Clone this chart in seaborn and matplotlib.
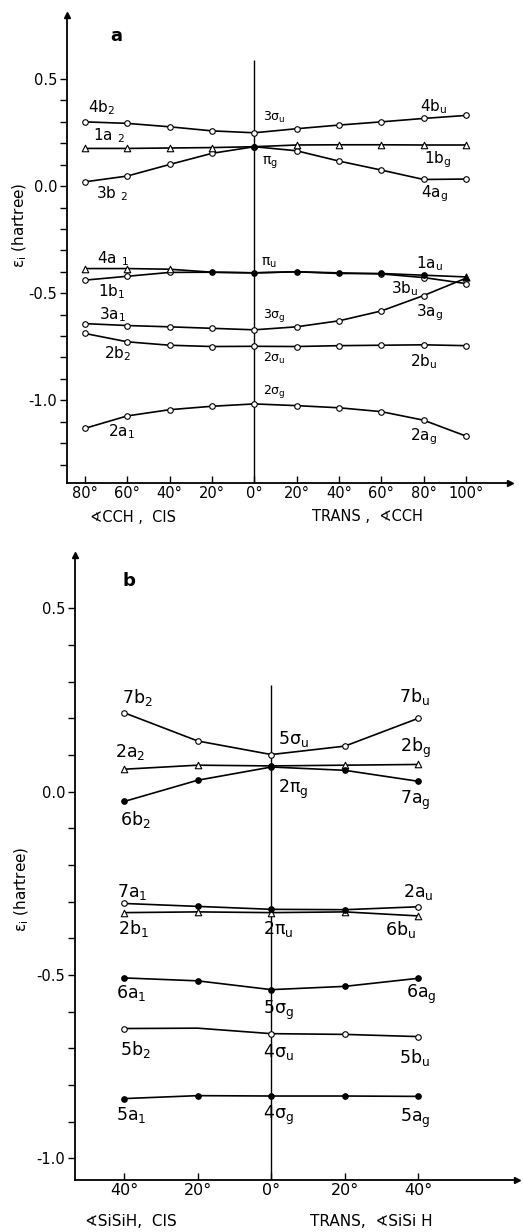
import numpy as np
import pandas as pd
import matplotlib
matplotlib.use("Agg")
import matplotlib.pyplot as plt
import seaborn as sns

# panel a: orbital energies vs. bending angle CCH (cis left, trans right)
angle_a = [-80, -60, -40, -20, 0, 20, 40, 60, 80, 100]
e_4b2 = [0.300, 0.293, 0.277, 0.258, 0.249, 0.268, 0.285, 0.300, 0.316, 0.330]
e_1a2 = [0.176, 0.176, 0.178, 0.180, 0.184, 0.192, 0.193, 0.193, 0.192, 0.192]
e_3b2 = [0.020, 0.047, 0.101, 0.153, 0.184, 0.165, 0.117, 0.075, 0.031, 0.033]
e_4a1 = [-0.385, -0.385, -0.388, -0.402, -0.405, -0.400, -0.408, -0.408, -0.416, -0.424]
e_1b1 = [-0.439, -0.421, -0.403, -0.402, -0.405, -0.400, -0.405, -0.410, -0.427, -0.455]
e_3a1 = [-0.642, -0.651, -0.657, -0.664, -0.671, -0.657, -0.629, -0.583, -0.511, -0.430]
e_2b2 = [-0.688, -0.727, -0.743, -0.749, -0.748, -0.749, -0.745, -0.743, -0.741, -0.745]
e_2a1 = [-1.131, -1.073, -1.044, -1.028, -1.017, -1.025, -1.035, -1.053, -1.093, -1.167]

# point symbols: o open circle, t open triangle, f filled dot, T filled triangle
mk_4b2 = ["o"] * 10
mk_1a2 = ["t", "t", "t", "t", "f", "t", "t", "t", "t", "t"]
mk_3b2 = ["o", "o", "o", "o", "f", "o", "o", "o", "o", "o"]
mk_4a1 = ["t", "t", "t", "f", "f", "f", "f", "f", "f", "T"]
mk_1b1 = ["o", "o", "o", "", "", "", "", "o", "o", "o"]
mk_3a1 = ["o", "o", "o", "o", "o", "o", "o", "o", "o", ""]
mk_2b2 = ["o"] * 10
mk_2a1 = ["o"] * 10

# panel b: orbital energies vs. bending angle SiSiH
angle_b = [-40, -20, 0, 20, 40]
e_7b2 = [0.215, 0.138, 0.101, 0.124, 0.200]
e_2a2 = [0.061, 0.072, 0.070, 0.072, 0.074]
e_6b2 = [-0.027, 0.031, 0.067, 0.058, 0.028]
e_7a1 = [-0.305, -0.313, -0.321, -0.322, -0.314]
e_2b1 = [-0.330, -0.328, -0.330, -0.328, -0.339]
e_6a1 = [-0.508, -0.516, -0.540, -0.531, -0.509]
e_5b2 = [-0.646, -0.645, -0.660, -0.662, -0.668]
e_5a1 = [-0.837, -0.829, -0.830, -0.830, -0.831]

mk_7b2 = ["o"] * 5
mk_2a2 = ["t", "t", "f", "t", "t"]
mk_6b2 = ["f"] * 5
mk_7a1 = ["o", "f", "f", "f", "o"]
mk_2b1 = ["t"] * 5
mk_6a1 = ["f"] * 5
mk_5b2 = ["o", "", "o", "o", "o"]
mk_5a1 = ["f"] * 5

series_a = {"4b2": (e_4b2, mk_4b2), "1a2": (e_1a2, mk_1a2), "3b2": (e_3b2, mk_3b2),
            "4a1": (e_4a1, mk_4a1), "1b1": (e_1b1, mk_1b1), "3a1": (e_3a1, mk_3a1),
            "2b2": (e_2b2, mk_2b2), "2a1": (e_2a1, mk_2a1)}
series_b = {"7b2": (e_7b2, mk_7b2), "2a2": (e_2a2, mk_2a2), "6b2": (e_6b2, mk_6b2),
            "7a1": (e_7a1, mk_7a1), "2b1": (e_2b1, mk_2b1), "6a1": (e_6a1, mk_6a1),
            "5b2": (e_5b2, mk_5b2), "5a1": (e_5a1, mk_5a1)}

labels_a = [(r"4b$_2$", -78.5, 0.367, 11), (r"3$\sigma_u$", 4.3, 0.320, 9), (r"4b$_u$", 78.5, 0.371, 11),
            (r"1a $_2$", -76.1, 0.236, 11), (r"$\pi_g$", 3.8, 0.110, 10), (r"1b$_g$", 80.4, 0.124, 11),
            (r"3b $_2$", -74.7, -0.035, 11), (r"4a$_g$", 79.0, -0.035, 11),
            (r"4a $_1$", -74.2, -0.339, 11), (r"$\pi_u$", 3.3, -0.357, 10), (r"1a$_u$", 76.6, -0.362, 11),
            (r"1b$_1$", -73.8, -0.493, 11), (r"3b$_u$", 64.8, -0.479, 11),
            (r"3a$_1$", -73.3, -0.600, 11), (r"3$\sigma_g$", 4.3, -0.605, 9), (r"3a$_g$", 76.6, -0.591, 11),
            (r"2b$_2$", -70.9, -0.783, 11), (r"2$\sigma_u$", 4.3, -0.806, 9), (r"2b$_u$", 73.8, -0.820, 11),
            (r"2$\sigma_g$", 4.3, -0.960, 9), (r"2a$_1$", -69.0, -1.147, 11), (r"2a$_g$", 73.8, -1.171, 11)]
labels_b = [(r"7b$_2$", -40.5, 0.257), (r"7b$_u$", 34.6, 0.260), (r"5$\sigma_u$", 1.9, 0.143),
            (r"2a$_2$", -42.4, 0.107), (r"2b$_g$", 35.1, 0.118), (r"2$\pi_g$", 1.9, 0.006),
            (r"7a$_g$", 35.1, -0.024), (r"6b$_2$", -41.1, -0.075),
            (r"7a$_1$", -41.9, -0.274), (r"2a$_u$", 35.9, -0.274),
            (r"2b$_1$", -41.6, -0.372), (r"2$\pi_u$", -2.2, -0.375), (r"6b$_u$", 31.0, -0.375),
            (r"6a$_1$", -42.2, -0.550), (r"5$\sigma_g$", -2.2, -0.596), (r"6a$_g$", 36.7, -0.552),
            (r"5b$_2$", -41.1, -0.702), (r"4$\sigma_u$", -2.2, -0.710), (r"5b$_u$", 34.6, -0.724),
            (r"5a$_1$", -42.2, -0.882), (r"4$\sigma_g$", -2.2, -0.882), (r"5a$_g$", 35.1, -0.890)]

sns.set_style("ticks")
plt.rcParams["font.family"] = ["DejaVu Sans"]
plt.rcParams["mathtext.default"] = "regular"
plt.rcParams["axes.unicode_minus"] = False
for key in ["text.color", "axes.labelcolor", "xtick.color", "ytick.color", "axes.edgecolor"]:
    plt.rcParams[key] = "black"

MARKS = {"o": dict(marker="o", s=16, color="white", edgecolor="black"),
         "t": dict(marker="^", s=22, color="white", edgecolor="black"),
         "f": dict(marker="o", s=16, color="black", edgecolor="black"),
         "T": dict(marker="^", s=26, color="black", edgecolor="black")}


def to_frame(angles, series):
    rows = []
    for name, (vals, marks) in series.items():
        for a, v, m in zip(angles, vals, marks):
            rows.append({"orbital": name, "angle": a, "energy": v, "mark": m})
    return pd.DataFrame(rows)


def draw_panel(ax, df):
    for name, grp in df.groupby("orbital", sort=False):
        sns.lineplot(data=grp, x="angle", y="energy", sort=False, estimator=None,
                     color="black", lw=1.2, ax=ax, zorder=2)
    for code, style in MARKS.items():
        pts = df[df["mark"] == code]
        if len(pts):
            sns.scatterplot(data=pts, x="angle", y="energy", linewidth=0.8,
                            ax=ax, zorder=3, **style)


def style_axes(ax, xlim, ylim, xticks, yminor):
    ax.set_xlim(*xlim)
    ax.set_ylim(*ylim)
    sns.despine(ax=ax)
    for sp in ["left", "bottom"]:
        ax.spines[sp].set_linewidth(1.3)
    ax.set_xticks(xticks)
    ax.set_xticklabels([f"{abs(t)}°" for t in xticks], fontsize=10.5)
    ax.set_yticks([0.5, 0.0, -0.5, -1.0])
    ax.set_yticklabels(["0.5", "0.0", "-0.5", "-1.0"], fontsize=10.5)
    ax.set_yticks(yminor, minor=True)
    ax.tick_params(axis="x", direction="in", length=5, width=1, pad=2)
    ax.tick_params(axis="y", which="both", direction="out", length=5, width=1, pad=2)
    ax.set_xlabel("")
    ax.set_ylabel("")
    ax.plot(0, 1, "^k", ms=5, transform=ax.transAxes, clip_on=False)
    ax.plot(1, 0, ">k", ms=5, transform=ax.transAxes, clip_on=False)


fig = plt.figure(figsize=(5.23, 12.32), dpi=100)

# ---- panel a ----
ax_a = fig.add_axes([0.128, 0.608, 0.847, 0.380])
draw_panel(ax_a, to_frame(angle_a, series_a))
ax_a.vlines(0, -1.386, 0.59, color="black", lw=1.0, zorder=1)
style_axes(ax_a, (-88.5, 120.8), (-1.386, 0.80), angle_a,
           [0.4, 0.3, 0.2, 0.1, -0.1, -0.2, -0.3, -0.4, -0.6, -0.7, -0.8, -0.9, -1.1, -1.2, -1.3])
for txt, x, y, fs in labels_a:
    ax_a.text(x, y, txt, fontsize=fs, ha="left", va="center")
ax_a.text(-68.1, 0.699, "a", fontsize=13, fontweight="bold", ha="left", va="center")
ax_a.text(-77.5, -1.548, "∢CCH ,  CIS", fontsize=10.5, ha="left", va="center", clip_on=False)
ax_a.text(27.4, -1.543, "TRANS ,  ∢CCH", fontsize=10.5, ha="left", va="center", clip_on=False)
fig.text(0.038, 0.817, r"$\varepsilon_i$ (hartree)", rotation=90, fontsize=11, ha="center", va="center")

# ---- panel b ----
ax_b = fig.add_axes([0.143, 0.0422, 0.845, 0.507])
draw_panel(ax_b, to_frame(angle_b, series_b))
ax_b.vlines(0, -1.059, 0.29, color="black", lw=1.0, zorder=1)
style_axes(ax_b, (-53.4, 66.7), (-1.059, 0.644), angle_b,
           [0.4, 0.3, 0.2, 0.1, -0.1, -0.2, -0.3, -0.4, -0.6, -0.7, -0.8, -0.9])
ax_b.tick_params(axis="x", labelsize=11.5)
for txt, x, y in labels_b:
    ax_b.text(x, y, txt, fontsize=12.5, ha="left", va="center")
ax_b.text(-40.5, 0.574, "b", fontsize=13, fontweight="bold", ha="left", va="center")
ax_b.text(-50.6, -1.171, "∢SiSiH,  CIS", fontsize=11, ha="left", va="center", clip_on=False)
ax_b.text(10.6, -1.171, "TRANS,  ∢SiSi H", fontsize=11, ha="left", va="center", clip_on=False)
fig.text(0.042, 0.278, r"$\varepsilon_i$ (hartree)", rotation=90, fontsize=11, ha="center", va="center")

fig.savefig("out.png", dpi=100)
